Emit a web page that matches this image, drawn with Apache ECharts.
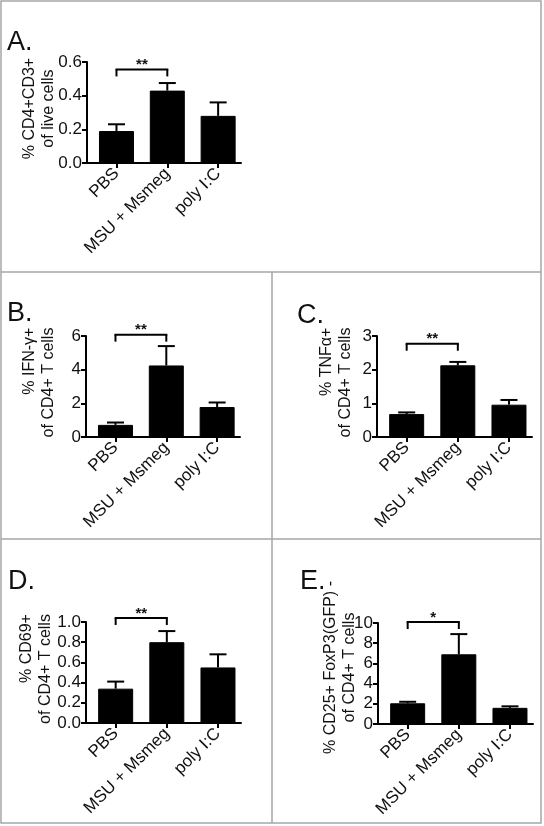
<!DOCTYPE html>
<html>
<head>
<meta charset="utf-8">
<script src="https://cdn.jsdelivr.net/npm/echarts@6/dist/echarts.min.js"></script>
<style>html,body{margin:0;padding:0;background:#fff;}#c{width:544px;height:826px;}</style>
</head>
<body>
<div id="c"></div>
<script>
// ---- data ----
const categories = ['PBS', 'MSU + Msmeg', 'poly I:C'];

const meanA = [0.19, 0.43, 0.28];
const errA  = [0.04, 0.045, 0.08];
const meanB = [0.72, 4.25, 1.78];
const errB  = [0.14, 1.15, 0.27];
const meanC = [0.68, 2.13, 0.96];
const errC  = [0.05, 0.10, 0.14];
const meanD = [0.34, 0.80, 0.55];
const errD  = [0.07, 0.11, 0.13];
const meanE = [2.05, 6.9, 1.6];
const errE  = [0.15, 2.0, 0.15];

const yMax      = [0.6, 6, 3, 1.0, 10];
const yInterval = [0.2, 2, 1, 0.2, 2];
const yDecimals = [1, 0, 0, 1, 0];

// significance: compared groups (index), bracket level (data units), label
const sigFrom   = [0, 0, 0, 0, 0];
const sigTo     = [1, 1, 1, 1, 1];
const sigLevel  = [0.556, 6.08, 2.77, 1.04, 10.1];
const sigLabel  = ['**', '**', '**', '**', '*'];

const panelLetters = ['A.', 'B.', 'C.', 'D.', 'E.'];
const yTitles = [
  ['% CD4+CD3+', 'of live cells'],
  ['% IFN-\u03b3+', 'of CD4+ T cells'],
  ['% TNF\u03b1+', 'of CD4+ T cells'],
  ['% CD69+', 'of CD4+ T cells'],
  ['% CD25+ FoxP3(GFP) -', 'of CD4+ T cells']
];
const means = [meanA, meanB, meanC, meanD, meanE];
const errs  = [errA, errB, errC, errD, errE];

// ---- layout ----
const FONT = 'Liberation Sans, Arial, Helvetica, sans-serif';
const INK = '#111';
const grids = [
  {left: 87,  top: 62,  width: 154, height: 101},
  {left: 86,  top: 336, width: 154, height: 101},
  {left: 377, top: 336, width: 155, height: 101},
  {left: 86,  top: 622, width: 155, height: 101},
  {left: 378, top: 623, width: 155, height: 101}
];
const nameGaps = [29, 28, 22, 31, 19];
const nameShift = [8, 8, 8, 7, 12];
const titleAlignFirst = ['center', 'right', 'right', 'right', 'center'];
const letterPos = [[7, 29], [7, 300], [297, 302], [8, 568], [300, 568]];

const xAxes = [], yAxes = [], series = [];
grids.forEach((g, i) => {
  g.outerBoundsMode = 'none';
  g.containLabel = false;
  xAxes.push({
    gridIndex: i, type: 'value', min: -0.58, max: 2.45,
    axisLine: {show: true, onZero: false, lineStyle: {color: '#000', width: 2}},
    axisTick: {show: true, customValues: [0, 1, 2], length: 5, lineStyle: {color: '#000', width: 2}},
    axisLabel: {show: true, customValues: [0, 1, 2], rotate: 45, margin: 8,
      formatter: v => categories[Math.round(v)], color: INK, fontSize: 17, fontFamily: FONT},
    splitLine: {show: false}
  });
  yAxes.push({
    gridIndex: i, type: 'value', min: 0, max: yMax[i], interval: yInterval[i],
    axisLine: {show: true, onZero: false, lineStyle: {color: '#000', width: 2}},
    axisTick: {show: true, length: 5, lineStyle: {color: '#000', width: 2}},
    axisLabel: {show: true, margin: 5, color: INK, fontSize: 17, fontFamily: FONT,
      formatter: v => Number(v).toFixed(yDecimals[i])},
    splitLine: {show: false},
    name: '{a|' + yTitles[i][0] + '}\n{b|' + yTitles[i][1] + '}',
    nameLocation: 'middle', nameRotate: 90, nameGap: nameGaps[i], nameMoveOverlap: false,
    nameTextStyle: {color: INK, fontSize: 16, fontFamily: FONT, lineHeight: 19,
      padding: [0, 0, 0, nameShift[i]],
      rich: {a: {align: titleAlignFirst[i], fontSize: 16, fontFamily: FONT, color: INK, lineHeight: 19},
             b: {fontSize: 16, fontFamily: FONT, color: INK, lineHeight: 19}}}
  });
  series.push({
    type: 'bar', xAxisIndex: i, yAxisIndex: i, barWidth: 35,
    data: means[i].map((m, k) => [k, m]),
    itemStyle: {color: '#000', borderColor: '#000', borderWidth: 1},
    silent: true, z: 2
  });
  series.push({
    type: 'custom', xAxisIndex: i, yAxisIndex: i, silent: true, z: 3,
    data: means[i].map((m, k) => [k, m, errs[i][k]]),
    renderItem: (params, api) => {
      const x = api.value(0), m = api.value(1), e = api.value(2);
      const p0 = api.coord([x, m]), p1 = api.coord([x, m + e]);
      const hw = 8.5;
      return {type: 'group', children: [
        {type: 'line', shape: {x1: p0[0], y1: p0[1], x2: p1[0], y2: p1[1]}, style: {stroke: '#000', lineWidth: 2}},
        {type: 'line', shape: {x1: p1[0] - hw, y1: p1[1], x2: p1[0] + hw, y2: p1[1]}, style: {stroke: '#000', lineWidth: 2}}
      ]};
    }
  });
  series.push({
    type: 'custom', xAxisIndex: i, yAxisIndex: i, silent: true, z: 4, clip: false,
    data: [[sigFrom[i], sigLevel[i], sigTo[i]]],
    renderItem: (params, api) => {
      const lv = api.value(1);
      const a = api.coord([api.value(0), lv]);
      const b = api.coord([api.value(2), lv]);
      const t = 7;
      const st = {stroke: '#000', lineWidth: 2};
      return {type: 'group', children: [
        {type: 'line', shape: {x1: a[0], y1: a[1] + t, x2: a[0], y2: a[1]}, style: st},
        {type: 'line', shape: {x1: a[0] - 1, y1: a[1], x2: b[0] + 1, y2: b[1]}, style: st},
        {type: 'line', shape: {x1: b[0], y1: b[1], x2: b[0], y2: b[1] + t}, style: st},
        {type: 'text', x: (a[0] + b[0]) / 2, y: a[1] + 3,
         style: {text: sigLabel[i], fill: INK, font: 'bold 15px ' + FONT, align: 'center', verticalAlign: 'bottom'}}
      ]};
    }
  });
});

const graphics = [];
const border = {stroke: '#a6a6a6', lineWidth: 1.5};
graphics.push({type: 'rect', shape: {x: 1, y: 1, width: 540, height: 822}, style: Object.assign({fill: null}, border), silent: true});
graphics.push({type: 'line', shape: {x1: 1, y1: 272, x2: 541, y2: 272}, style: border, silent: true});
graphics.push({type: 'line', shape: {x1: 1, y1: 539, x2: 541, y2: 539}, style: border, silent: true});
graphics.push({type: 'line', shape: {x1: 272, y1: 272, x2: 272, y2: 823}, style: border, silent: true});
panelLetters.forEach((L, i) => {
  graphics.push({type: 'text', x: letterPos[i][0], y: letterPos[i][1], silent: true,
    style: {text: L, fill: INK, font: '27px ' + FONT, align: 'left', verticalAlign: 'alphabetic'}});
});

const chart = echarts.init(document.getElementById('c'), null, {renderer: 'canvas'});
chart.setOption({
  animation: false,
  backgroundColor: '#fff',
  grid: grids,
  xAxis: xAxes,
  yAxis: yAxes,
  series: series,
  graphic: graphics
});
</script>
</body>
</html>
